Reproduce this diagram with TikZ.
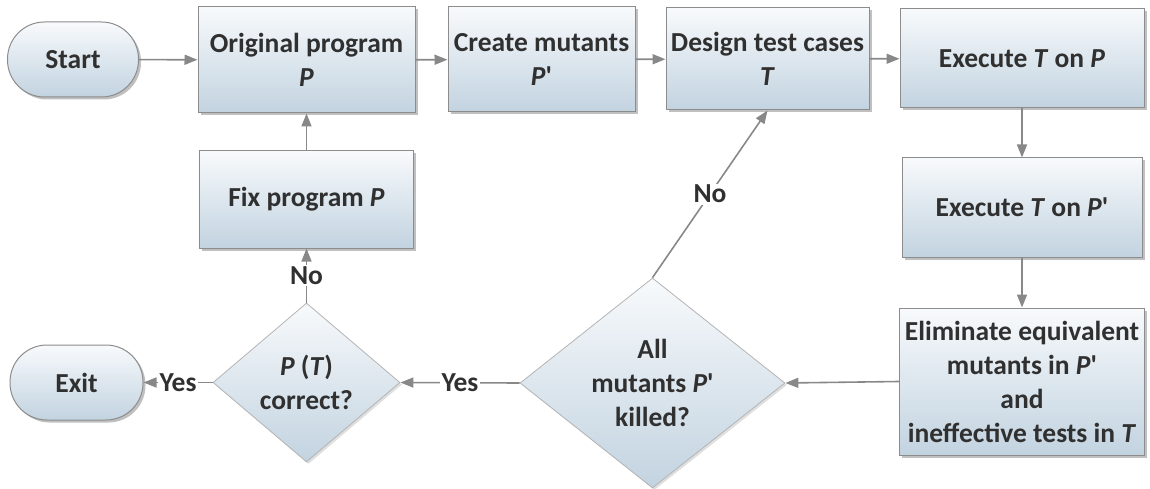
\documentclass[tikz,border=0pt]{standalone}
\usepackage{fontspec}
\setmainfont{Carlito}[Ligatures=TeXOff]
\usetikzlibrary{shapes.geometric,arrows.meta,shadows}

\definecolor{topc}{HTML}{F8FAFC}
\definecolor{botc}{HTML}{C2D3E0}
\definecolor{boxline}{HTML}{8C8C8C}
\definecolor{dline}{HTML}{B4B4B4}
\definecolor{arrowc}{HTML}{888888}
\definecolor{txt}{HTML}{303030}

\newcommand{\flowfont}{\fontsize{27.5}{34}\selectfont\bfseries}
\newcommand{\iv}[1]{\textit{#1}}

\tikzset{
  flowbox/.style={rectangle, draw=boxline, line width=1pt,
    top color=topc, bottom color=botc, align=center,
    font=\flowfont, text=txt, inner sep=0pt,
    drop shadow={shadow xshift=2.5pt, shadow yshift=-2.5pt, opacity=.45, fill=black!55}},
  term/.style={flowbox, rounded corners=37pt},
  decision/.style={diamond, draw=dline, line width=0.8pt,
    top color=topc, bottom color=botc, inner sep=0pt,
    drop shadow={shadow xshift=2pt, shadow yshift=-2pt, opacity=.25, fill=black!50}},
  dtext/.style={align=center, font=\flowfont, text=txt, inner sep=0pt},
  flow/.style={draw=arrowc, line width=1.6pt, -{Triangle[length=13pt,width=10pt]}},
  tag/.style={fill=white, font=\flowfont, text=txt, inner sep=1.5pt}
}

\begin{document}
\begin{tikzpicture}[x=1pt, y=-1pt]
\useasboundingbox (0,0) rectangle (1150,489);

% top row
\node[term, minimum width=131pt, minimum height=75pt] (start) at (73,59.5) {Start};
\node[flowbox, minimum width=217pt, minimum height=106pt] (orig) at (306.5,60) {Original program\\\iv{P}};
\node[flowbox, minimum width=187pt, minimum height=105pt] (create) at (541.5,59.5) {Create mutants\\\iv{P}'};
\node[flowbox, minimum width=203pt, minimum height=102pt] (design) at (767.5,59) {Design test cases\\\iv{T}};
\node[flowbox, minimum width=244pt, minimum height=99pt] (exec1) at (1022,58.5) {Execute \iv{T} on \iv{P}};

% right column
\node[flowbox, minimum width=240pt, minimum height=99pt] (exec2) at (1022,207.5) {Execute \iv{T} on \iv{P}'};
\node[flowbox, minimum width=245pt, minimum height=147pt] (elim) at (1022,381.5)
  {Eliminate equivalent\\mutants in \iv{P}'\\and\\ineffective tests in \iv{T}};

% decisions
\node[decision, minimum width=265pt, minimum height=210pt] (all) at (652.5,383) {};
\node[dtext] at (all.center) {All\\mutants \iv{P}'\\killed?};
\node[decision, minimum width=187pt, minimum height=159pt] (pt) at (306.5,382.5) {};
\node[dtext] at (pt.center) {\iv{P} (\iv{T})\\correct?};

% left column
\node[flowbox, minimum width=214pt, minimum height=97pt] (fix) at (306.5,199.5) {Fix program \iv{P}};
\node[term, minimum width=133pt, minimum height=75pt] (exit) at (76.5,382.5) {Exit};

% connectors
\draw[flow] (start) -- (orig);
\draw[flow] (orig) -- (create);
\draw[flow] (create) -- (design);
\draw[flow] (design) -- (exec1);
\draw[flow] (exec1) -- (exec2);
\draw[flow] (exec2) -- (elim);
\draw[flow] (elim.west) -- (all.east);
\draw[flow] (all.west) -- node[tag] {Yes} (pt.east);
\draw[flow] (pt.west) -- node[tag] {Yes} (exit.east);
\draw[flow] (pt.north) -- node[tag] {No} (fix.south);
\draw[flow] (fix) -- (orig);
\draw[flow] (all.north) -- node[tag] {No} (design.south);
\end{tikzpicture}
\end{document}
